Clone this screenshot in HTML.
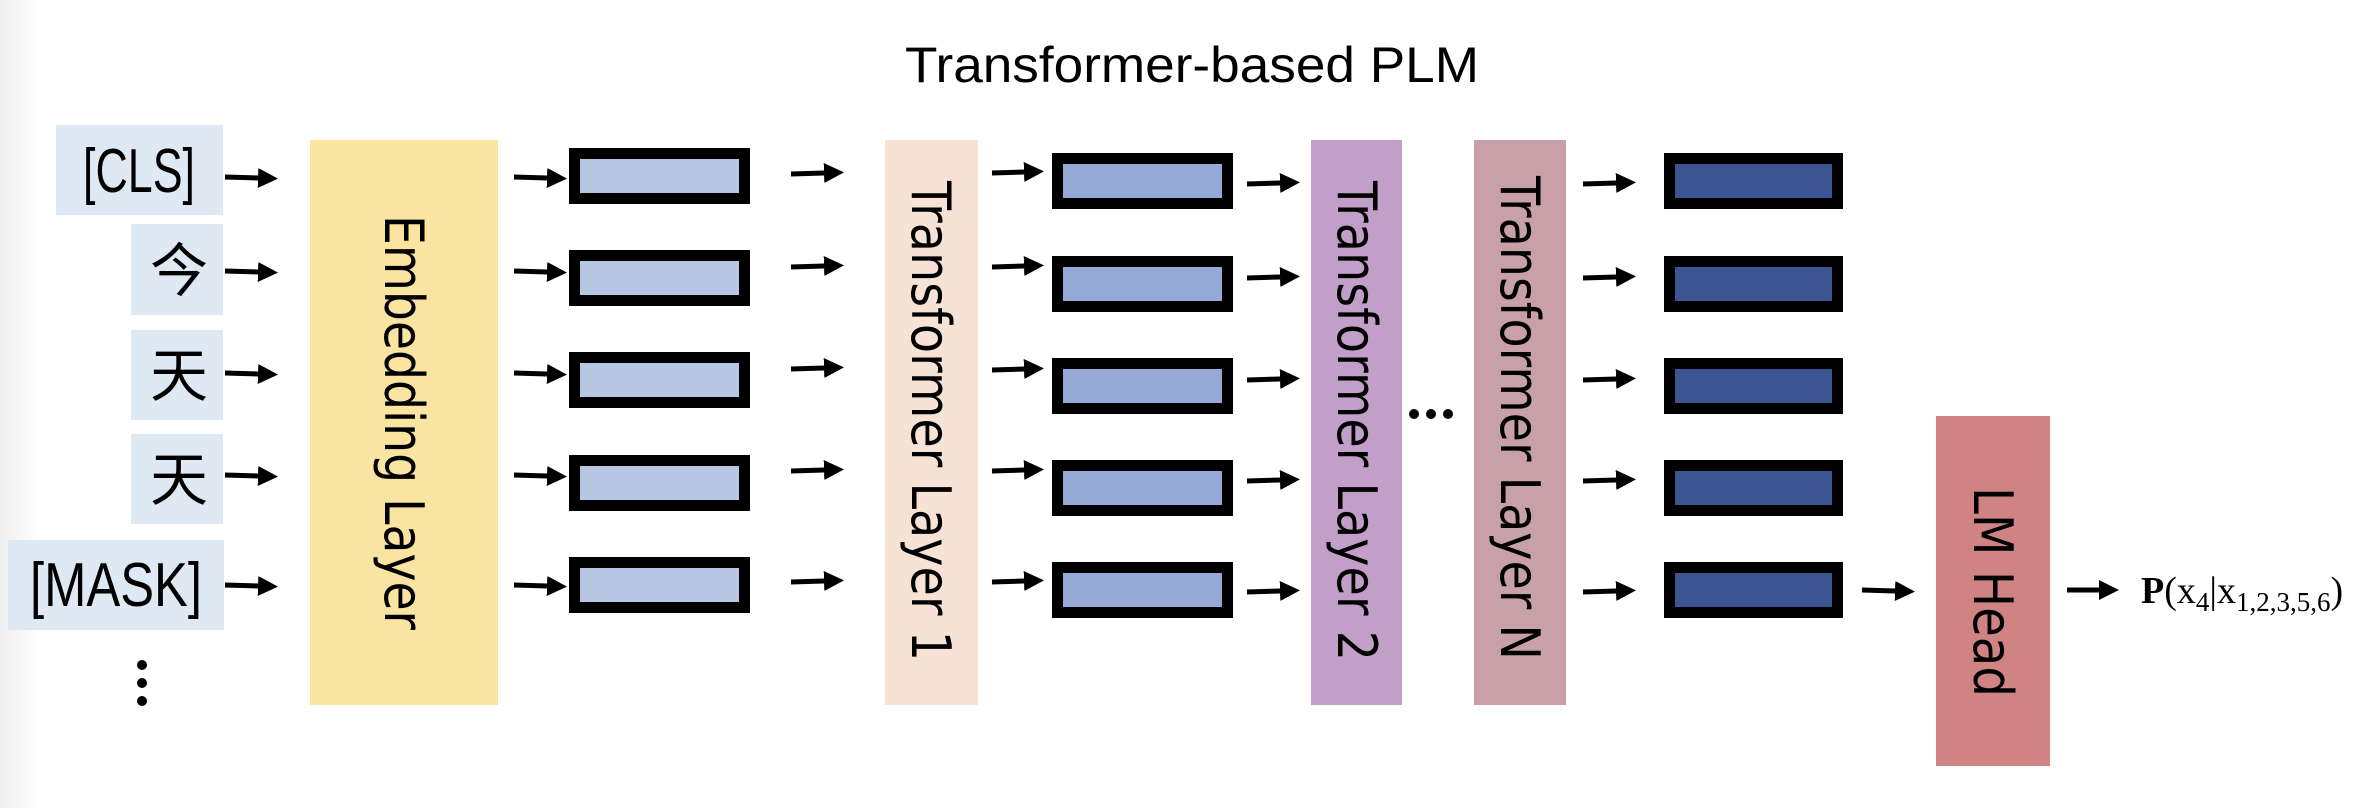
<!DOCTYPE html>
<html><head><meta charset="utf-8"><style>
html,body{margin:0;padding:0;background:#fff;}
svg{display:block;}
text{font-family:"Liberation Sans","Noto Sans CJK SC",sans-serif;fill:#000;}
.v{font-family:"DejaVu Sans","Liberation Sans",sans-serif;}
</style></head><body>
<svg width="2378" height="808" viewBox="0 0 2378 808" xmlns="http://www.w3.org/2000/svg">
<defs>
<linearGradient id="lg" x1="0" x2="1" y1="0" y2="0">
<stop offset="0" stop-color="#eeeeee"/><stop offset="1" stop-color="#ffffff"/>
</linearGradient>
<marker id="ah" markerWidth="4" markerHeight="4" refX="0" refY="2" orient="auto" markerUnits="strokeWidth">
<path d="M0,0 L4,2 L0,4 z" fill="#000"/>
</marker>
</defs>
<rect x="0" y="0" width="40" height="808" fill="url(#lg)"/>
<text x="905" y="82" font-size="50" textLength="574" lengthAdjust="spacingAndGlyphs">Transformer-based PLM</text>

<!-- tokens -->
<g fill="#dfe9f4">
<rect x="56" y="125" width="167" height="90"/>
<rect x="131" y="224" width="92" height="91"/>
<rect x="131" y="330" width="92" height="90"/>
<rect x="131" y="434" width="92" height="90"/>
<rect x="8" y="540" width="216" height="90"/>
</g>
<text x="83" y="192" font-size="62" textLength="112" lengthAdjust="spacingAndGlyphs">[CLS]</text>
<text x="150" y="291" font-size="58">今</text>
<text x="150" y="396" font-size="58">天</text>
<text x="150" y="500" font-size="58">天</text>
<text x="30" y="606" font-size="62" textLength="172" lengthAdjust="spacingAndGlyphs">[MASK]</text>
<g fill="#000">
<circle cx="142" cy="665" r="5"/><circle cx="142" cy="683" r="5"/><circle cx="142" cy="701" r="5"/>
<circle cx="1414" cy="414" r="5"/><circle cx="1431" cy="414" r="5"/><circle cx="1448" cy="414" r="5"/>
</g>

<!-- layers -->
<rect x="310" y="140" width="188" height="565" fill="#f9e4a1"/>
<rect x="885" y="140" width="93" height="565" fill="#f6e3d6"/>
<rect x="1311" y="140" width="91" height="565" fill="#c29fc8"/>
<rect x="1474" y="140" width="92" height="565" fill="#c7a0a8"/>
<rect x="1936" y="416" width="114" height="350" fill="#cf8483"/>

<g font-size="54" class="v">
<text class="v" transform="translate(385,215) rotate(90)" textLength="415" lengthAdjust="spacingAndGlyphs">Embedding Layer</text>
<text class="v" transform="translate(912,181) rotate(90)" textLength="480" lengthAdjust="spacingAndGlyphs">Transformer Layer 1</text>
<text class="v" transform="translate(1338,181) rotate(90)" textLength="480" lengthAdjust="spacingAndGlyphs">Transformer Layer 2</text>
<text class="v" transform="translate(1501,176) rotate(90)" textLength="484" lengthAdjust="spacingAndGlyphs">Transformer Layer N</text>
<text class="v" transform="translate(1974,487) rotate(90)" textLength="210" lengthAdjust="spacingAndGlyphs">LM Head</text>
</g>

<!-- vector boxes -->
<g stroke="#000" stroke-width="11">
<g fill="#b7c6e3">
<rect x="574.5" y="153.5" width="170" height="45"/>
<rect x="574.5" y="255.5" width="170" height="45"/>
<rect x="574.5" y="357.5" width="170" height="45"/>
<rect x="574.5" y="460.5" width="170" height="45"/>
<rect x="574.5" y="562.5" width="170" height="45"/>
</g>
<g fill="#95a9d7">
<rect x="1057.5" y="158.5" width="170" height="45"/>
<rect x="1057.5" y="261.5" width="170" height="45"/>
<rect x="1057.5" y="363.5" width="170" height="45"/>
<rect x="1057.5" y="465.5" width="170" height="45"/>
<rect x="1057.5" y="567.5" width="170" height="45"/>
</g>
<g fill="#3a5592">
<rect x="1669.5" y="158.5" width="168" height="45"/>
<rect x="1669.5" y="261.5" width="168" height="45"/>
<rect x="1669.5" y="363.5" width="168" height="45"/>
<rect x="1669.5" y="465.5" width="168" height="45"/>
<rect x="1669.5" y="567.5" width="168" height="45"/>
</g>
</g>

<!-- arrows -->
<g stroke="#000" stroke-width="5" marker-end="url(#ah)">
<line x1="225" y1="177" x2="258" y2="178"/>
<line x1="225" y1="271" x2="258" y2="272"/>
<line x1="225" y1="373" x2="258" y2="374"/>
<line x1="225" y1="475" x2="258" y2="476"/>
<line x1="225" y1="585" x2="258" y2="586"/>

<line x1="514" y1="177" x2="547" y2="178"/>
<line x1="514" y1="271" x2="547" y2="272"/>
<line x1="514" y1="373" x2="547" y2="374"/>
<line x1="514" y1="475" x2="547" y2="476"/>
<line x1="514" y1="585" x2="547" y2="586"/>

<line x1="791" y1="174" x2="824" y2="173"/>
<line x1="791" y1="267" x2="824" y2="266"/>
<line x1="791" y1="369" x2="824" y2="368"/>
<line x1="791" y1="471" x2="824" y2="470"/>
<line x1="791" y1="582" x2="824" y2="581"/>

<line x1="992" y1="173" x2="1024" y2="172"/>
<line x1="992" y1="267" x2="1024" y2="266"/>
<line x1="992" y1="370" x2="1024" y2="369"/>
<line x1="992" y1="471" x2="1024" y2="470"/>
<line x1="992" y1="582" x2="1024" y2="581"/>

<line x1="1247" y1="184" x2="1280" y2="183"/>
<line x1="1247" y1="278" x2="1280" y2="277"/>
<line x1="1247" y1="380" x2="1280" y2="379"/>
<line x1="1247" y1="481" x2="1280" y2="480"/>
<line x1="1247" y1="592" x2="1280" y2="591"/>

<line x1="1583" y1="184" x2="1616" y2="183"/>
<line x1="1583" y1="278" x2="1616" y2="277"/>
<line x1="1583" y1="380" x2="1616" y2="379"/>
<line x1="1583" y1="481" x2="1616" y2="480"/>
<line x1="1583" y1="592" x2="1616" y2="591"/>

<line x1="1862" y1="590" x2="1895" y2="591"/>
<line x1="2067" y1="590" x2="2099" y2="590"/>
</g>

<text x="2141" y="603" font-size="38" style="font-family:'Liberation Serif',serif"><tspan font-weight="bold">P</tspan>(x<tspan font-size="27" dy="8">4</tspan><tspan dy="-8">|x</tspan><tspan font-size="27" dy="8">1,2,3,5,6</tspan><tspan dy="-8">)</tspan></text>
</svg>
</body></html>
